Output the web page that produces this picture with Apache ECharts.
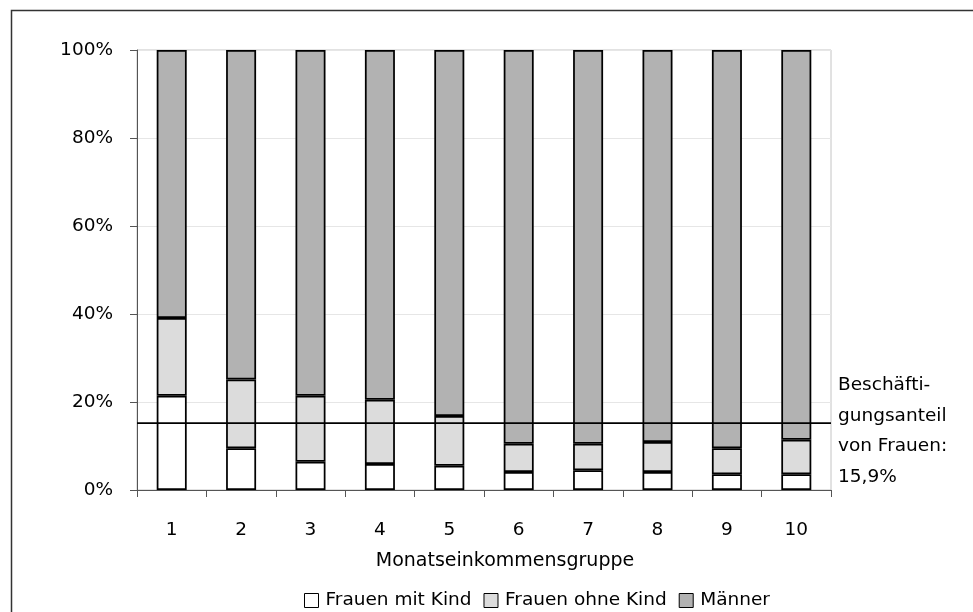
<!DOCTYPE html>
<html>
<head>
<meta charset="utf-8">
<script src="https://cdn.jsdelivr.net/npm/echarts@6/dist/echarts.min.js"></script>
<style>
  html, body { margin: 0; padding: 0; background: #fff; }
  #chart { width: 973px; height: 612px; }
</style>
</head>
<body>
<div id="chart"></div>
<script>
const categories = ['1', '2', '3', '4', '5', '6', '7', '8', '9', '10'];
const frauenMitKind = [21.4, 9.5, 6.4, 5.9, 5.5, 4.1, 4.5, 4.1, 3.6, 3.6];
const frauenOhneKind = [17.7, 15.6, 15.0, 14.6, 11.3, 6.4, 6.0, 6.8, 5.9, 7.8];
const maenner = [60.9, 74.9, 78.6, 79.5, 83.2, 89.5, 89.5, 89.1, 90.5, 88.6];
const referenceLine = 15.2;
const yTicks = [0, 20, 40, 60, 80, 100];
const seriesNames = ['Frauen mit Kind', 'Frauen ohne Kind', 'Männer'];
const annotationLines = ['Beschäfti-', 'gungsanteil', 'von Frauen:', '15,9%'];

const FONT = '"DejaVu Sans", Verdana, sans-serif';
const FS = 18.5;
const chart = echarts.init(document.getElementById('chart'), null, { renderer: 'canvas' });

const barStyle = (color) => ({ color: color, borderColor: '#000', borderWidth: 1.75 });

chart.setOption({
  animation: false,
  backgroundColor: '#fff',
  textStyle: { fontFamily: FONT, color: '#000' },
  grid: {
    left: 137, top: 50, width: 694, height: 440,
    show: true, borderColor: '#c4c4c4', borderWidth: 1, backgroundColor: 'transparent'
  },
  legend: {
    data: seriesNames,
    top: 586,
    left: 299,
    icon: 'rect',
    itemWidth: 14,
    itemHeight: 14,
    itemGap: 12,
    itemStyle: { borderColor: '#000', borderWidth: 1 },
    textStyle: { fontSize: FS, fontFamily: FONT, color: '#000', padding: [0, 0, 0, 2] }
  },
  xAxis: {
    type: 'category',
    data: categories,
    boundaryGap: true,
    name: 'Monatseinkommensgruppe',
    nameLocation: 'middle',
    nameGap: 62,
    nameTextStyle: { fontSize: 19, fontFamily: FONT, color: '#000', padding: [0, 0, 0, 42] },
    axisLine: { show: true, lineStyle: { color: '#555', width: 1 } },
    axisTick: { show: true, interval: 0, length: 7, lineStyle: { color: '#555' } },
    axisLabel: { fontSize: FS, fontFamily: FONT, color: '#000', margin: 31, interval: 0 },
    splitLine: { show: false }
  },
  yAxis: {
    type: 'value',
    min: yTicks[0],
    max: yTicks[yTicks.length - 1],
    interval: yTicks[1] - yTicks[0],
    axisLine: { show: true, lineStyle: { color: '#555', width: 1 } },
    axisTick: { show: true, length: 7, lineStyle: { color: '#555' } },
    axisLabel: { fontSize: FS, fontFamily: FONT, color: '#000', margin: 24, formatter: '{value}%' },
    splitLine: { show: true, lineStyle: { color: '#e6e6e6', width: 1 } }
  },
  series: [
    {
      name: seriesNames[0], type: 'bar', stack: 'total', barWidth: 30,
      data: frauenMitKind, itemStyle: barStyle('#ffffff')
    },
    {
      name: seriesNames[1], type: 'bar', stack: 'total', barWidth: 30,
      data: frauenOhneKind, itemStyle: barStyle('#dcdcdc')
    },
    {
      name: seriesNames[2], type: 'bar', stack: 'total', barWidth: 30,
      data: maenner, itemStyle: barStyle('#b2b2b2'),
      markLine: {
        silent: true,
        symbol: 'none',
        label: { show: false },
        lineStyle: { color: '#000', width: 1.75, type: 'solid' },
        data: [{ yAxis: referenceLine }],
        z: 10
      }
    }
  ],
  graphic: [
    {
      type: 'rect',
      shape: { x: 11.5, y: 10.5, width: 1000, height: 700 },
      style: { fill: 'none', stroke: '#333', lineWidth: 1.5 },
      silent: true
    }
  ].concat(annotationLines.map((t, i) => ({
    type: 'text',
    x: 838,
    y: 385 + i * 30.7,
    style: { text: t, fontSize: FS, fontFamily: FONT, fill: '#000', verticalAlign: 'middle', align: 'left' }
  })))
});
</script>
</body>
</html>
